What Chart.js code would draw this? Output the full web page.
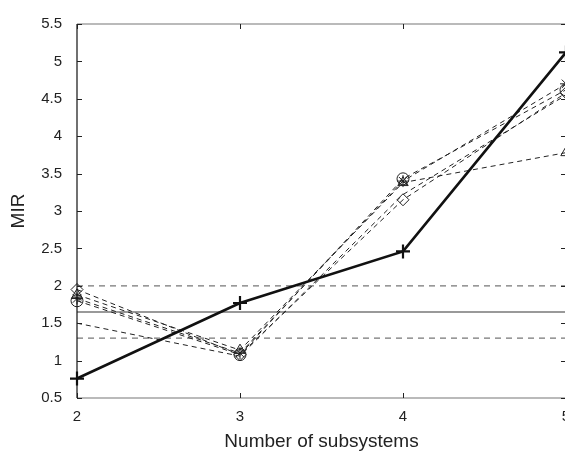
<!DOCTYPE html>
<html>
<head>
<meta charset="utf-8">
<script src="https://cdn.jsdelivr.net/npm/chart.js@4"></script>
<style>
html,body{margin:0;padding:0;background:#fff;overflow:hidden;}
#wrap{width:620px;height:454px;position:relative;}
</style>
</head>
<body>
<div id="wrap"><canvas id="c" width="620" height="454"></canvas></div>
<script>
const subsystems = [2, 3, 4, 5];
const yTicks = [0.5, 1, 1.5, 2, 2.5, 3, 3.5, 4, 4.5, 5, 5.5];
const mainSeries = [0.76, 1.77, 2.46, 5.12];
const circleSeries = [1.80, 1.08, 3.43, 4.62];
const triangleSeries = [1.88, 1.14, 3.38, 3.78];
const starSeries = [1.83, 1.10, 3.40, 4.70];
const diamondSeries = [1.95, 1.08, 3.15, 4.58];
const plainSeries = [1.50, 1.06, 3.22, 4.55];
const upperLimit = 2.0;
const meanLevel = 1.65;
const lowerLimit = 1.3;

const pts = arr => arr.map((v, i) => ({x: subsystems[i], y: v}));
const hline = v => [{x: subsystems[0], y: v}, {x: subsystems[subsystems.length - 1], y: v}];

function dashed(data, style) {
  return {
    data: pts(data), borderColor: '#222', borderWidth: 1, borderDash: [5, 4],
    pointStyle: style, pointRadius: style ? 6 : 0, pointBorderColor: '#222',
    pointBackgroundColor: 'rgba(0,0,0,0)', pointBorderWidth: 1, clip: false, order: 2
  };
}
function ref(v, dash) {
  return {
    data: hline(v), borderColor: '#777', borderWidth: 1.3, borderDash: dash,
    pointRadius: 0, clip: false, order: 5
  };
}

const boxPlugin = {
  id: 'box',
  afterDatasetsDraw(chart) {
    const {ctx, chartArea: a, scales} = chart;
    ctx.save();
    ctx.lineWidth = 1.2;
    ctx.strokeStyle = '#777';
    ctx.beginPath();
    ctx.moveTo(a.left, a.top); ctx.lineTo(a.right, a.top);
    ctx.moveTo(a.left, a.bottom); ctx.lineTo(a.right, a.bottom);
    ctx.moveTo(a.right, a.top); ctx.lineTo(a.right, a.bottom);
    ctx.stroke();
    ctx.strokeStyle = '#111';
    ctx.beginPath();
    ctx.moveTo(a.left, a.top); ctx.lineTo(a.left, a.bottom);
    ctx.stroke();
    ctx.lineWidth = 1;
    ctx.strokeStyle = '#222';
    ctx.beginPath();
    const L = 5;
    yTicks.forEach(t => {
      const y = Math.round(scales.y.getPixelForValue(t)) + 0.5;
      ctx.moveTo(a.left, y); ctx.lineTo(a.left + L, y);
      ctx.moveTo(a.right, y); ctx.lineTo(a.right - L, y);
    });
    subsystems.forEach(t => {
      const x = Math.round(scales.x.getPixelForValue(t)) + 0.5;
      ctx.moveTo(x, a.bottom); ctx.lineTo(x, a.bottom - L);
      ctx.moveTo(x, a.top); ctx.lineTo(x, a.top + L);
    });
    ctx.stroke();
    ctx.restore();
  }
};

const tickFont = {family: 'Liberation Sans', size: 15};
const titleFont = {family: 'Liberation Sans', size: 19};

new Chart(document.getElementById('c'), {
  type: 'line',
  data: {
    datasets: [
      {
        data: pts(mainSeries), borderColor: '#111', borderWidth: 2.6,
        pointStyle: 'cross', pointRadius: 7, pointBorderWidth: 2.2,
        pointBorderColor: '#111', clip: false, order: 1
      },
      dashed(circleSeries, 'circle'),
      dashed(triangleSeries, 'triangle'),
      dashed(starSeries, 'star'),
      dashed(diamondSeries, 'rectRot'),
      dashed(plainSeries, false),
      ref(upperLimit, [6, 5]),
      ref(meanLevel, []),
      ref(lowerLimit, [6, 5])
    ]
  },
  options: {
    responsive: false,
    animation: false,
    layout: {padding: {top: 12, right: 54, left: 0, bottom: 0}},
    plugins: {legend: {display: false}, tooltip: {enabled: false}},
    scales: {
      x: {
        type: 'linear', min: 2, max: 5,
        afterFit(s) { s.height = 56; },
        grid: {display: false, drawTicks: false},
        border: {display: false},
        ticks: {stepSize: 1, padding: 10, color: '#222', font: tickFont},
        title: {display: true, text: 'Number of subsystems', color: '#222',
                font: titleFont, padding: {top: 0, bottom: 1}}
      },
      y: {
        type: 'linear', min: 0.5, max: 5.5,
        afterFit(s) { s.width = 77; },
        afterBuildTicks(s) { s.ticks = yTicks.map(v => ({value: v})); },
        grid: {display: false, drawTicks: false},
        border: {display: false},
        ticks: {padding: 15, color: '#222', font: tickFont, callback: v => String(v)},
        title: {display: true, text: 'MIR', color: '#222',
                font: titleFont, padding: {top: 7, bottom: 0}}
      }
    }
  },
  plugins: [boxPlugin]
});
</script>
</body>
</html>
